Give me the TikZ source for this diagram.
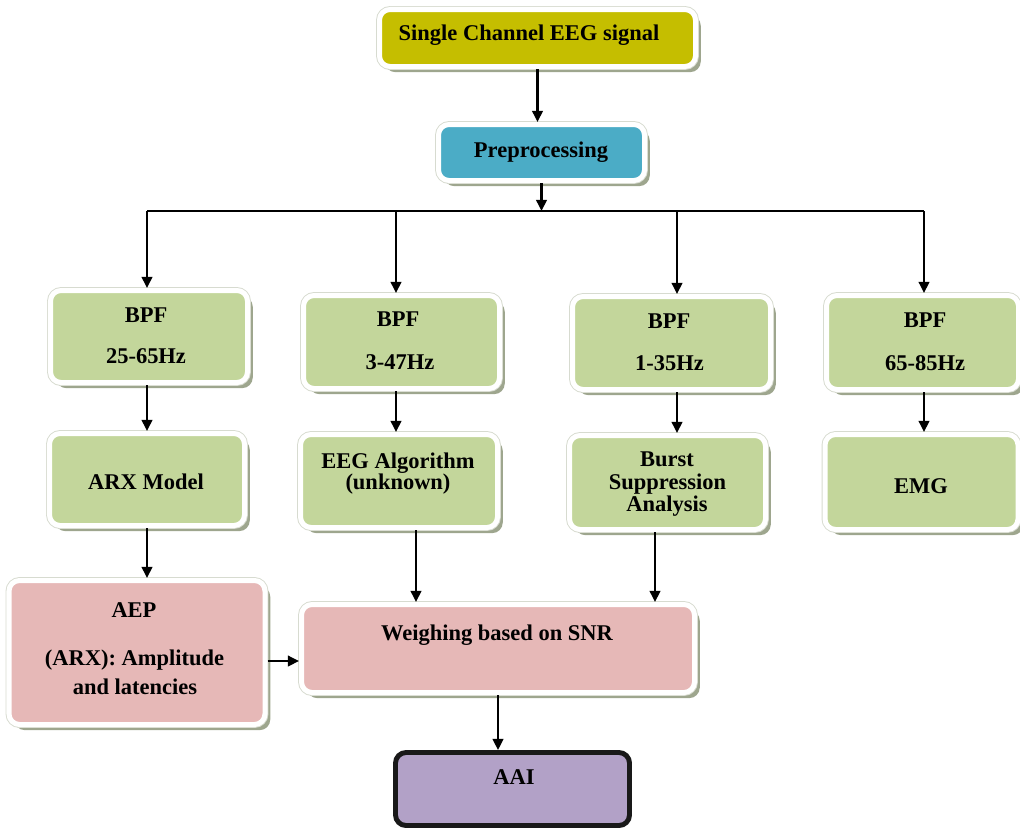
\documentclass[tikz,border=0pt]{standalone}
\usepackage{fontspec}
\setmainfont{Liberation Serif}
\usetikzlibrary{arrows.meta,shadows}

\definecolor{olivebox}{RGB}{197,190,0}
\definecolor{cyanbox}{RGB}{75,172,198}
\definecolor{greenbox}{RGB}{195,214,155}
\definecolor{pinkbox}{RGB}{230,184,183}
\definecolor{purplebox}{RGB}{178,161,199}
\definecolor{shadowcol}{RGB}{158,166,142}
\definecolor{rimcol}{RGB}{215,219,208}

\tikzset{
  sz/.style 2 args={minimum width=#1*0.02cm, minimum height=#2*0.02cm},
  blockbox/.style={rectangle, rounded corners=6pt, draw=white, line width=2.85pt,
    inner sep=0pt,
    drop shadow={shadow xshift=3pt, shadow yshift=-3.2pt, fill=shadowcol, opacity=1},
    preaction={draw=rimcol, line width=3.9pt}},
  finalbox/.style={rectangle, rounded corners=6pt, draw=black!90, line width=2.8pt,
    inner sep=0pt, fill=purplebox},
  txt/.style={font=\bfseries\fontsize{12.8}{15}\selectfont, anchor=base, inner sep=0pt},
  flow/.style={line width=1.15pt, -{Triangle[length=6.3pt,width=6pt]}},
  plain/.style={line width=1.15pt},
}

\begin{document}
\begin{tikzpicture}[x=0.02cm, y=-0.02cm]
\useasboundingbox (0,0) rectangle (1020,829);

% blocks
\node[blockbox, fill=olivebox, sz={316}{57}] (top) at (537.5,38) {};
\node[blockbox, fill=cyanbox, sz={206}{56}] (pre) at (541.5,152.5) {};

\node[blockbox, fill=greenbox, sz={197}{92}] (bpf1) at (149,336.5) {};
\node[blockbox, fill=greenbox, sz={196}{93}] (bpf2) at (401.5,342) {};
\node[blockbox, fill=greenbox, sz={198}{93}] (bpf3) at (671.5,343) {};
\node[blockbox, fill=greenbox, sz={192}{94}] (bpf4) at (922.5,342.5) {};

\node[blockbox, fill=greenbox, sz={195}{92}] (arx) at (147,479.5) {};
\node[blockbox, fill=greenbox, sz={197}{93}] (eeg) at (399,481) {};
\node[blockbox, fill=greenbox, sz={196}{94}] (burst) at (667.5,482.5) {};
\node[blockbox, fill=greenbox, sz={193}{95}] (emg) at (921.5,482) {};

\node[blockbox, fill=pinkbox, sz={256}{144}] (aep) at (137,652.5) {};
\node[blockbox, fill=pinkbox, sz={393}{88}] (weigh) at (498,648.5) {};

\node[finalbox, sz={234}{73}] (aai) at (512.5,789) {};

% labels
\node[txt] (ttop) at (529,40.5) {Single Channel EEG signal};
\node[txt] (tpre) at (541,157) {Preprocessing};

\node[txt] (tb1a) at (146,322.5) {BPF};
\node[txt] (tb1b) at (146,363.5) {25-65Hz};
\node[txt] (tb2a) at (398,326.5) {BPF};
\node[txt] (tb2b) at (400,369) {3-47Hz};
\node[txt] (tb3a) at (669,328) {BPF};
\node[txt] (tb3b) at (669.5,370.5) {1-35Hz};
\node[txt] (tb4a) at (925,327.5) {BPF};
\node[txt] (tb4b) at (925,370) {65-85Hz};

\node[txt] (tarx) at (146,489) {ARX Model};
\node[txt] (teega) at (398,468.3) {EEG Algorithm};
\node[txt] (teegb) at (398,489) {(unknown)};
\node[txt] (tbua) at (667,466.7) {Burst};
\node[txt] (tbub) at (667.5,489) {Suppression};
\node[txt] (tbuc) at (667,511.5) {Analysis};
\node[txt] (temg) at (921,493) {EMG};

\node[txt] (taepa) at (134,617) {AEP};
\node[txt] (taepb) at (134.5,665) {(ARX): Amplitude};
\node[txt] (taepc) at (135,694) {and latencies};
\node[txt] (tweigh) at (497,640) {Weighing based on SNR};
\node[txt] (taai) at (514,784) {AAI};

% routing points
\coordinate (split) at (541.5,211);
\coordinate (h1) at (147,211);
\coordinate (h2) at (396,211);
\coordinate (h3) at (677,211);
\coordinate (h4) at (924,211);
\coordinate (v2) at (416,0);
\coordinate (v3) at (655,0);
\coordinate (v4) at (0,661);

% connectors
\draw[flow] (top.south) -- (top.south |- pre.north);
\draw[flow] (pre.south) -- (split);
\draw[plain] (h1) -- (h4);
\draw[flow] (h1) -- (h1 |- bpf1.north);
\draw[flow] (h2) -- (h2 |- bpf2.north);
\draw[flow] (h3) -- (h3 |- bpf3.north);
\draw[flow] (h4) -- (h4 |- bpf4.north);

\draw[flow] (bpf1.south -| h1) -- (h1 |- arx.north);
\draw[flow] (bpf2.south -| h2) -- (h2 |- eeg.north);
\draw[flow] (bpf3.south -| h3) -- (h3 |- burst.north);
\draw[flow] (bpf4.south -| h4) -- (h4 |- emg.north);

\draw[flow] (arx.south -| h1) -- (h1 |- aep.north);
\draw[flow] (eeg.south -| v2) -- (v2 |- weigh.north);
\draw[flow] (burst.south -| v3) -- (v3 |- weigh.north);
\draw[flow] (aep.east |- v4) -- (weigh.west |- v4);
\draw[flow] (weigh.south) -- (weigh.south |- aai.north);
\end{tikzpicture}
\end{document}
